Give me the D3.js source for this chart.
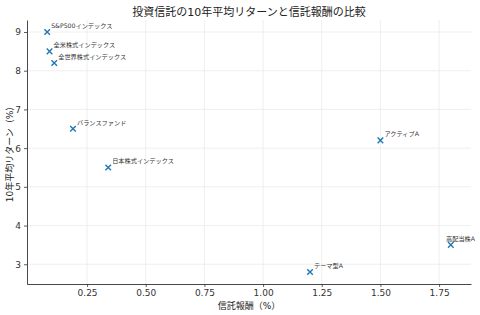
<!DOCTYPE html>
<html>
<head>
<meta charset="utf-8">
<script src="https://cdn.jsdelivr.net/npm/d3@7"></script>
<style>
  body { margin: 0; background: #fff; }
  svg { display: block; font-family: "DejaVu Sans", "Noto Sans CJK JP", sans-serif; }
</style>
</head>
<body>
<div id="chart"></div>
<script>
// data
var fundNames = [
    "S&P500インデックス",
    "全米株式インデックス",
    "全世界株式インデックス",
    "バランスファンド",
    "日本株式インデックス",
    "アクティブA",
    "テーマ型A",
    "高配当株A"
];
var feeValues = [0.08, 0.09, 0.11, 0.19, 0.34, 1.50, 1.20, 1.80];
var returnValues = [9.0, 8.5, 8.2, 6.5, 5.5, 6.2, 2.8, 3.5];
var xTicks = [0.25, 0.50, 0.75, 1.00, 1.25, 1.50, 1.75];
var yTicks = [3, 4, 5, 6, 7, 8, 9];

var titleText = "投資信託の10年平均リターンと信託報酬の比較";
var xLabel = "信託報酬（%）";
var yLabel = "10年平均リターン（%）";

var width = 480, height = 315;
var margin = {top: 20, right: 9, bottom: 31, left: 27};
var plotW = width - margin.left - margin.right;
var plotH = height - margin.top - margin.bottom;

var points = fundNames.map(function(name, i) {
    return {name: name, fee: feeValues[i], ret: returnValues[i]};
});

// matplotlib style 5% padding
function padded(values) {
    var ext = d3.extent(values);
    var pad = (ext[1] - ext[0]) * 0.05;
    return [ext[0] - pad, ext[1] + pad];
}

var x = d3.scaleLinear().domain(padded(feeValues)).range([0, plotW]);
var y = d3.scaleLinear().domain(padded(returnValues)).range([plotH, 0]);

var svg = d3.select("#chart").append("svg")
    .attr("width", width)
    .attr("height", height);

var g = svg.append("g")
    .attr("transform", `translate(${margin.left}, ${margin.top})`);

// grid
var grid = g.append("g").attr("class", "grid");
grid.selectAll(".vgrid")
    .data(xTicks)
    .enter().append("line")
    .attr("x1", d => x(d)).attr("x2", d => x(d))
    .attr("y1", 0).attr("y2", plotH)
    .style("stroke", "#ebebeb")
    .style("stroke-width", 0.8);
grid.selectAll(".hgrid")
    .data(yTicks)
    .enter().append("line")
    .attr("x1", 0).attr("x2", plotW)
    .attr("y1", d => y(d)).attr("y2", d => y(d))
    .style("stroke", "#ebebeb")
    .style("stroke-width", 0.8);

// axes
var xAxis = g.append("g")
    .attr("transform", `translate(0, ${plotH})`)
    .call(d3.axisBottom(x).tickValues(xTicks).tickFormat(d3.format(".2f")).tickSize(3).tickPadding(3).tickSizeOuter(0));
var yAxis = g.append("g")
    .call(d3.axisLeft(y).tickValues(yTicks).tickFormat(d3.format("d")).tickSize(3).tickPadding(3).tickSizeOuter(0));

[xAxis, yAxis].forEach(function(ax) {
    ax.select(".domain").style("stroke", "#333").style("stroke-width", 0.9);
    ax.selectAll(".tick line").style("stroke", "#333").style("stroke-width", 0.8);
    ax.selectAll(".tick text")
        .style("font-family", "DejaVu Sans")
        .style("font-size", "9px")
        .style("fill", "#333");
});

// markers
var cross = d3.symbol().type(d3.symbolX).size(22);
g.selectAll(".pt")
    .data(points)
    .enter().append("path")
    .attr("class", "pt")
    .attr("d", cross)
    .attr("transform", d => `translate(${x(d.fee)}, ${y(d.ret)})`)
    .style("fill", "none")
    .style("stroke", "#1f77b4")
    .style("stroke-width", 1.4);

// point labels, pulled left if they would run past the right edge
g.selectAll(".lbl")
    .data(points)
    .enter().append("text")
    .attr("class", "lbl")
    .attr("x", d => x(d.fee) + 4)
    .attr("y", d => y(d.ret) - 4)
    .text(d => d.name)
    .style("font-size", "6.2px")
    .style("fill", "#333")
    .each(function(d) {
        var len = this.getComputedTextLength();
        var maxX = width - 5 - margin.left - len;
        if (x(d.fee) + 4 > maxX) {
            d3.select(this).attr("x", maxX);
        }
    });

// title and axis labels
svg.append("text")
    .attr("x", margin.left + plotW / 2)
    .attr("y", 16)
    .attr("text-anchor", "middle")
    .style("font-size", "11px")
    .style("fill", "#222")
    .text(titleText);

svg.append("text")
    .attr("x", margin.left + plotW / 2)
    .attr("y", 309)
    .attr("text-anchor", "middle")
    .style("font-size", "9px")
    .style("fill", "#222")
    .text(xLabel);

svg.append("text")
    .attr("transform", `translate(13, ${margin.top + plotH / 2}) rotate(-90)`)
    .attr("text-anchor", "middle")
    .style("font-size", "9px")
    .style("fill", "#222")
    .text(yLabel);
</script>
</body>
</html>
